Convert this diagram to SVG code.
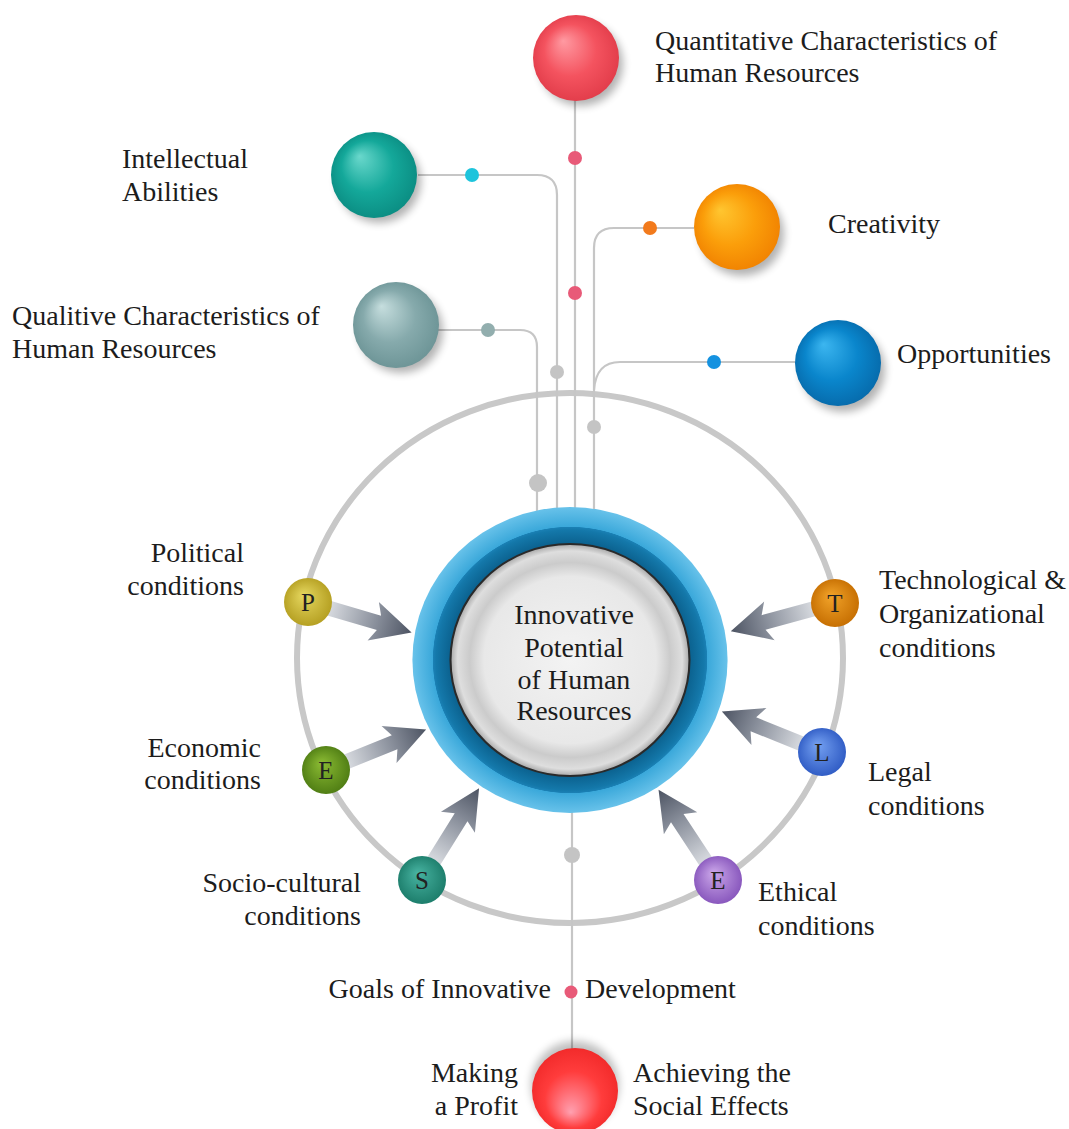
<svg xmlns="http://www.w3.org/2000/svg" width="1069" height="1129" viewBox="0 0 1069 1129">
<defs>
<style>
.lbl{font-family:"Liberation Serif","Times New Roman",serif;font-size:28px;fill:#1c1c1c}
.ctr{font-family:"Liberation Serif","Times New Roman",serif;font-size:28px;fill:#1c1c1c;text-anchor:middle}
.let{font-family:"Liberation Serif","Times New Roman",serif;font-size:25px;fill:#222;text-anchor:middle}
.ln{fill:none;stroke:#c6c6c6;stroke-width:2.2}
.gd{fill:#c4c4c4}
</style>
<filter id="sh" x="-50%" y="-50%" width="200%" height="200%"><feGaussianBlur stdDeviation="4"/></filter>
<radialGradient id="gRed" cx="0.5" cy="0.5" r="0.55" fx="0.35" fy="0.3"><stop offset="0" stop-color="#ff9aa2"/><stop offset="0.55" stop-color="#f4535f"/><stop offset="1" stop-color="#e03a48"/></radialGradient>
<radialGradient id="gRed2" cx="0.5" cy="0.5" r="0.55" fx="0.45" fy="0.75"><stop offset="0" stop-color="#ffa0b0"/><stop offset="0.6" stop-color="#ff3c3c"/><stop offset="1" stop-color="#f02828"/></radialGradient>
<radialGradient id="gTeal" cx="0.5" cy="0.5" r="0.55" fx="0.33" fy="0.28"><stop offset="0" stop-color="#6ad8cc"/><stop offset="0.55" stop-color="#14a89a"/><stop offset="1" stop-color="#0a8a80"/></radialGradient>
<radialGradient id="gOr" cx="0.5" cy="0.5" r="0.55" fx="0.3" fy="0.3"><stop offset="0" stop-color="#ffc630"/><stop offset="0.55" stop-color="#fb9e0a"/><stop offset="1" stop-color="#f08000"/></radialGradient>
<radialGradient id="gGt" cx="0.5" cy="0.5" r="0.55" fx="0.33" fy="0.28"><stop offset="0" stop-color="#c6dede"/><stop offset="0.55" stop-color="#86aaac"/><stop offset="1" stop-color="#6a9294"/></radialGradient>
<radialGradient id="gBl" cx="0.5" cy="0.5" r="0.55" fx="0.33" fy="0.28"><stop offset="0" stop-color="#3cb6f0"/><stop offset="0.55" stop-color="#0a86cc"/><stop offset="1" stop-color="#0668a8"/></radialGradient>
<radialGradient id="gP" cx="0.5" cy="0.5" r="0.55" fx="0.4" fy="0.35"><stop offset="0" stop-color="#e6d860"/><stop offset="1" stop-color="#b29c1e"/></radialGradient>
<radialGradient id="gT" cx="0.5" cy="0.5" r="0.55" fx="0.4" fy="0.35"><stop offset="0" stop-color="#f2a42a"/><stop offset="1" stop-color="#c46c00"/></radialGradient>
<radialGradient id="gL" cx="0.5" cy="0.5" r="0.55" fx="0.4" fy="0.35"><stop offset="0" stop-color="#76a2f2"/><stop offset="1" stop-color="#2c58c2"/></radialGradient>
<radialGradient id="gE1" cx="0.5" cy="0.5" r="0.55" fx="0.4" fy="0.35"><stop offset="0" stop-color="#8cbc34"/><stop offset="1" stop-color="#4c7a12"/></radialGradient>
<radialGradient id="gS" cx="0.5" cy="0.5" r="0.55" fx="0.4" fy="0.35"><stop offset="0" stop-color="#48b4a2"/><stop offset="1" stop-color="#1a7a68"/></radialGradient>
<radialGradient id="gE2" cx="0.5" cy="0.5" r="0.55" fx="0.4" fy="0.35"><stop offset="0" stop-color="#cca8ea"/><stop offset="1" stop-color="#8452ba"/></radialGradient>
<radialGradient id="gSil" cx="0.5" cy="0.5" r="0.5"><stop offset="0" stop-color="#f3f3f3"/><stop offset="0.72" stop-color="#e8e8e8"/><stop offset="0.84" stop-color="#cbcbcb"/><stop offset="0.94" stop-color="#dedede"/><stop offset="1" stop-color="#a8a8a8"/></radialGradient>
<radialGradient id="gRing" gradientUnits="userSpaceOnUse" cx="0" cy="0" r="153"><stop offset="0.75" stop-color="#0a5f8c"/><stop offset="0.85" stop-color="#1478aa"/><stop offset="0.868" stop-color="#1a80b4"/><stop offset="0.872" stop-color="#3aa8da"/><stop offset="1" stop-color="#68c2ea"/></radialGradient>
<linearGradient id="gArr" x1="0" y1="0" x2="1" y2="0"><stop offset="0.2" stop-color="#d8dbe0"/><stop offset="0.65" stop-color="#8a909c"/><stop offset="1" stop-color="#4c5362"/></linearGradient>
<path id="arr" d="M0,-7.5 L74,-7.5 L68,-20 L108,0 L68,20 L74,7.5 L0,7.5 Z" fill="url(#gArr)"/>
</defs>
<rect width="1069" height="1129" fill="#ffffff"/>

<g id="outer-ring">
<ellipse cx="570" cy="658" rx="273" ry="265" fill="none" stroke="#c8c8c8" stroke-width="6"/>
</g>

<g id="connectors">
<path class="ln" d="M575,100 V512"/>
<path class="ln" d="M418,175 H537 Q557,175 557,195 V512"/>
<path class="ln" d="M438,330 H520 Q537,330 537,347 V512"/>
<path class="ln" d="M694,228 H614 Q594,228 594,248 V512"/>
<path class="ln" d="M795,362 H620 Q596,362 594,390"/>
<path class="ln" d="M572,810 V1050"/>
<circle cx="575" cy="158" r="7" fill="#e85a78"/>
<circle cx="575" cy="293" r="7" fill="#e85a78"/>
<circle cx="472" cy="175" r="7" fill="#1ec4dc"/>
<circle cx="650" cy="228" r="7" fill="#f27a1c"/>
<circle cx="488" cy="330" r="7" fill="#92aeae"/>
<circle cx="714" cy="362" r="7" fill="#1592e0"/>
<circle class="gd" cx="557" cy="372" r="7"/>
<circle class="gd" cx="594" cy="427" r="7"/>
<circle class="gd" cx="538" cy="483" r="9"/>
<circle class="gd" cx="572" cy="855" r="8"/>
<circle cx="571" cy="992" r="6.5" fill="#e85a78"/>
<use href="#arr" transform="translate(308,602) rotate(16.4)"/>
<use href="#arr" transform="translate(835,603) rotate(164.8)"/>
<use href="#arr" transform="translate(326,770) rotate(-22)"/>
<use href="#arr" transform="translate(822,752) rotate(-158)"/>
<use href="#arr" transform="translate(422,880) rotate(-58.1)"/>
<use href="#arr" transform="translate(718,880) rotate(-123.4)"/>
</g>

<g id="center">
<g transform="translate(570,660) scale(1.03,1)">
<circle r="153" fill="url(#gRing)"/>
<circle r="116" fill="url(#gSil)" stroke="#2a2a2a" stroke-width="2"/>
</g>
<text class="ctr" x="574" y="624">Innovative</text>
<text class="ctr" x="574" y="657">Potential</text>
<text class="ctr" x="574" y="689">of Human</text>
<text class="ctr" x="574" y="720">Resources</text>
</g>

<g id="n-quantitative">
<circle cx="581" cy="64" r="42" fill="#000" opacity="0.3" filter="url(#sh)"/>
<circle cx="576" cy="58" r="43" fill="url(#gRed)"/>
<text class="lbl" x="655" y="50">Quantitative Characteristics of</text>
<text class="lbl" x="655" y="82">Human Resources</text>
</g>

<g id="n-intellectual">
<circle cx="379" cy="181" r="42" fill="#000" opacity="0.3" filter="url(#sh)"/>
<circle cx="374" cy="175" r="43" fill="url(#gTeal)"/>
<text class="lbl" x="122" y="168">Intellectual</text>
<text class="lbl" x="122" y="201">Abilities</text>
</g>

<g id="n-creativity">
<circle cx="742" cy="234" r="42" fill="#000" opacity="0.3" filter="url(#sh)"/>
<circle cx="737" cy="227" r="43" fill="url(#gOr)"/>
<text class="lbl" x="828" y="233">Creativity</text>
</g>

<g id="n-qualitive">
<circle cx="401" cy="331" r="42" fill="#000" opacity="0.3" filter="url(#sh)"/>
<circle cx="396" cy="325" r="43" fill="url(#gGt)"/>
<text class="lbl" x="12" y="325">Qualitive Characteristics of</text>
<text class="lbl" x="12" y="358">Human Resources</text>
</g>

<g id="n-opportunities">
<circle cx="843" cy="370" r="42" fill="#000" opacity="0.3" filter="url(#sh)"/>
<circle cx="838" cy="363" r="43" fill="url(#gBl)"/>
<text class="lbl" x="897" y="363">Opportunities</text>
</g>

<g id="n-political">
<circle cx="308" cy="602" r="24" fill="url(#gP)"/>
<text class="let" x="308" y="611">P</text>
<text class="lbl" x="244" y="562" text-anchor="end">Political</text>
<text class="lbl" x="244" y="595" text-anchor="end">conditions</text>
</g>

<g id="n-technological">
<circle cx="835" cy="603" r="24" fill="url(#gT)"/>
<text class="let" x="835" y="612">T</text>
<text class="lbl" x="879" y="589">Technological &amp;</text>
<text class="lbl" x="879" y="623">Organizational</text>
<text class="lbl" x="879" y="657">conditions</text>
</g>

<g id="n-economic">
<circle cx="326" cy="770" r="24" fill="url(#gE1)"/>
<text class="let" x="326" y="779">E</text>
<text class="lbl" x="261" y="757" text-anchor="end">Economic</text>
<text class="lbl" x="261" y="789" text-anchor="end">conditions</text>
</g>

<g id="n-legal">
<circle cx="822" cy="752" r="24" fill="url(#gL)"/>
<text class="let" x="822" y="761">L</text>
<text class="lbl" x="868" y="781">Legal</text>
<text class="lbl" x="868" y="815">conditions</text>
</g>

<g id="n-socio">
<circle cx="422" cy="880" r="24" fill="url(#gS)"/>
<text class="let" x="422" y="889">S</text>
<text class="lbl" x="361" y="892" text-anchor="end">Socio-cultural</text>
<text class="lbl" x="361" y="925" text-anchor="end">conditions</text>
</g>

<g id="n-ethical">
<circle cx="718" cy="880" r="24" fill="url(#gE2)"/>
<text class="let" x="718" y="889">E</text>
<text class="lbl" x="758" y="901">Ethical</text>
<text class="lbl" x="758" y="935">conditions</text>
</g>

<g id="n-goals">
<text class="lbl" x="551" y="998" text-anchor="end">Goals of Innovative</text>
<text class="lbl" x="585" y="998">Development</text>
</g>

<g id="n-outcomes">
<circle cx="575" cy="1085" r="44" fill="#000" opacity="0.25" filter="url(#sh)"/>
<circle cx="575" cy="1091" r="43" fill="url(#gRed2)"/>
<text class="lbl" x="518" y="1082" text-anchor="end">Making</text>
<text class="lbl" x="518" y="1115" text-anchor="end">a Profit</text>
<text class="lbl" x="633" y="1082">Achieving the</text>
<text class="lbl" x="633" y="1115">Social Effects</text>
</g>
</svg>
